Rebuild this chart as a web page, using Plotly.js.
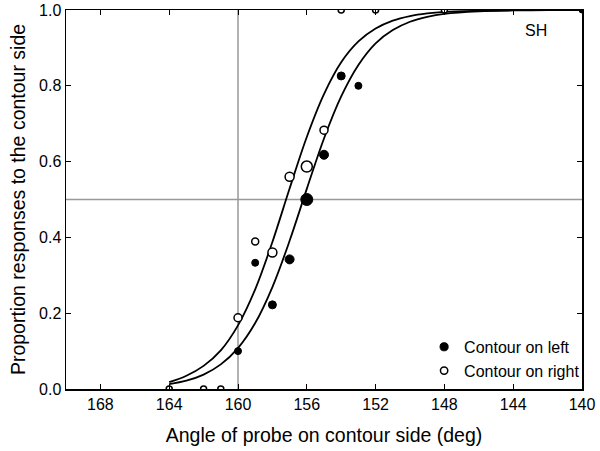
<!DOCTYPE html>
<html>
<head>
<meta charset="utf-8">
<script src="https://cdn.plot.ly/plotly-3.0.1.min.js"></script>
<style>html,body{margin:0;padding:0;background:#fff;}#chart{width:600px;height:451px;}</style>
</head>
<body>
<div id="chart"></div>
<script>
// Data points: contour on left (filled)
const angleLeft = [160, 159, 158, 157, 156, 155, 154, 153, 140];
const propLeft  = [0.100, 0.333, 0.222, 0.342, 0.500, 0.618, 0.826, 0.800, 1.000];
// Data points: contour on right (open)
const angleRight = [164, 162, 161, 160, 159, 158, 157, 156, 155, 154, 152, 148];
const propRight  = [0, 0, 0, 0.188, 0.389, 0.360, 0.560, 0.587, 0.683, 1.0, 1.0, 1.0];
// Marker sizes (number of trials)
const sizeLeft  = [7, 7, 8, 9, 12, 9, 8, 7, 6];
const sizeRight = [6, 6, 6, 8, 7, 9, 9, 11, 8, 6, 6, 6];
// Fitted curves
const curveAngles = [164, 163, 162, 161, 160, 159, 158, 157, 156, 155, 154, 153, 152, 151, 150, 149, 148, 146, 144, 142, 140];
const curveRight  = [0.018, 0.035, 0.061, 0.102, 0.168, 0.263, 0.388, 0.529, 0.665, 0.778, 0.862, 0.917, 0.951, 0.972, 0.984, 0.991, 0.995, 0.998, 0.9995, 0.9998, 1.0];
const curveLeft   = [0.013, 0.022, 0.038, 0.065, 0.108, 0.174, 0.269, 0.391, 0.528, 0.661, 0.772, 0.855, 0.912, 0.947, 0.969, 0.982, 0.990, 0.9966, 0.9989, 0.9996, 0.9999];
// Axis ticks
const xTicks = [168, 164, 160, 156, 152, 148, 144, 140];
const yTicks = [0, 0.2, 0.4, 0.6, 0.8, 1.0];
const yTickText = ['0.0', '0.2', '0.4', '0.6', '0.8', '1.0'];

const FONT = 'Liberation Sans, Arial, Helvetica, sans-serif';

const traces = [
  {x: curveAngles, y: curveRight, mode: 'lines', line: {color: '#000', width: 1.8, shape: 'spline'}, showlegend: false, hoverinfo: 'skip'},
  {x: curveAngles, y: curveLeft, mode: 'lines', line: {color: '#000', width: 1.8, shape: 'spline'}, showlegend: false, hoverinfo: 'skip'},
  {x: angleLeft, y: propLeft, mode: 'markers', name: 'Contour on left',
   marker: {color: '#000', opacity: 1, size: sizeLeft, line: {color: '#000', width: 1}}},
  {x: angleRight, y: propRight, mode: 'markers', name: 'Contour on right',
   marker: {color: '#fff', opacity: 1, size: sizeRight, line: {color: '#000', width: 1.5}}}
];

const layout = {
  width: 600, height: 451,
  margin: {l: 66, r: 18, t: 10, b: 62},
  paper_bgcolor: '#fff', plot_bgcolor: '#fff',
  font: {family: FONT, color: '#000', size: 16},
  xaxis: {
    range: [170, 140], tickvals: xTicks, ticks: 'inside', ticklen: 5, tickwidth: 1, tickcolor: '#000',
    showline: true, linecolor: '#000', linewidth: 1.5, mirror: 'ticks', showgrid: false, zeroline: false,
    tickfont: {size: 16}, title: {text: 'Angle of probe on contour side (deg)', font: {size: 19.5}, standoff: 16}
  },
  yaxis: {
    range: [0, 1], tickvals: yTicks, ticktext: yTickText, ticks: 'inside', ticklen: 5, tickwidth: 1, tickcolor: '#000',
    showline: true, linecolor: '#000', linewidth: 1.5, mirror: 'ticks', showgrid: false, zeroline: false,
    tickfont: {size: 16}, title: {text: 'Proportion responses to the contour side', font: {size: 19.5}, standoff: 8}
  },
  shapes: [
    {type: 'line', xref: 'x', yref: 'y', x0: 160, x1: 160, y0: 0, y1: 1, line: {color: '#999', width: 1.5}, layer: 'below'},
    {type: 'line', xref: 'x', yref: 'y', x0: 170, x1: 140, y0: 0.5, y1: 0.5, line: {color: '#999', width: 1.5}, layer: 'below'}
  ],
  annotations: [
    {text: 'SH', xref: 'paper', yref: 'paper', x: 0.936, y: 0.946, xanchor: 'right', yanchor: 'middle', showarrow: false, font: {size: 16}}
  ],
  legend: {x: 0.694, y: 0.156, xanchor: 'left', yanchor: 'top', bgcolor: 'rgba(0,0,0,0)', font: {size: 16}, tracegroupgap: 0}
};

Plotly.newPlot('chart', traces, layout, {displayModeBar: false, staticPlot: true});
</script>
</body>
</html>
